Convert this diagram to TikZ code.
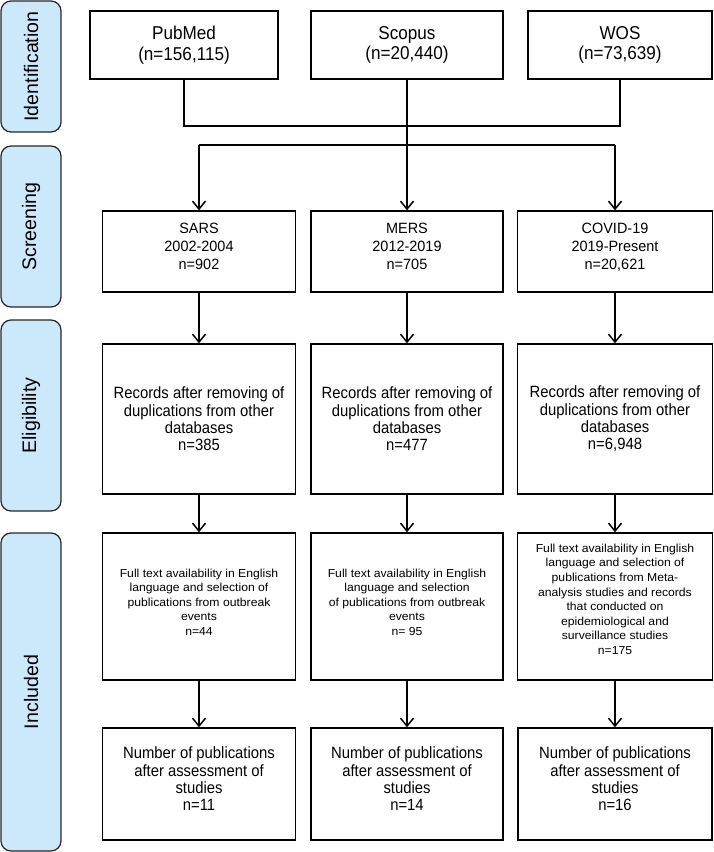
\documentclass[tikz,border=0pt]{standalone}
\usepackage{fontspec}
\setmainfont{Liberation Sans}
\newfontfamily\topfont[FakeStretch=0.92]{Liberation Sans}
\newfontfamily\scrfont[FakeStretch=0.97]{Liberation Sans}
\newfontfamily\narrowfont[FakeStretch=0.91]{Liberation Sans}
\newfontfamily\incfont[FakeStretch=1.05]{Liberation Sans}
\newcommand\lowerby[1]{\rule[-#1]{0pt}{#1}}
\usetikzlibrary{arrows.meta}
\definecolor{stagefill}{HTML}{CCE8FB}
\begin{document}
\begin{tikzpicture}[x=1pt,y=-1pt,
  box/.style={draw=black, line width=1.4pt, fill=white, inner sep=0pt, align=center},
  stagebox/.style={draw=black!85, line width=1.2pt, fill=stagefill, rounded corners=10pt,
    rotate=90, inner sep=0pt, minimum height=60pt, font=\fontsize{19.6}{22}\selectfont},
  conn/.style={line width=1.5pt},
  arr/.style={line width=1.5pt, -{Straight Barb[length=8pt,width=13pt]}},
  ftop/.style={font=\topfont\fontsize{18.6}{20.7}\selectfont},
  fscr/.style={font=\scrfont\fontsize{14.9}{17.8}\selectfont},
  felig/.style={font=\narrowfont\fontsize{16.3}{17.3}\selectfont},
  finc/.style={font=\incfont\fontsize{11.6}{14.6}\selectfont},
  fnum/.style={font=\narrowfont\fontsize{16.3}{17.2}\selectfont}]
\useasboundingbox (0,0) rectangle (714,852);

% stage labels
\node[stagebox, minimum width=131pt] (st1) at (31,66.5) {Identification};
\node[stagebox, minimum width=161pt] (st2) at (31,226.5) {Screening};
\node[stagebox, minimum width=191pt] (st3) at (31,415.5) {Eligibility};
\node[stagebox, minimum width=318pt] (st4) at (31,692) {Included};

% databases
\node[box, ftop, minimum width=188pt, minimum height=68pt] (pub) at (184,45) {PubMed\\(n=156,115)};
\node[box, ftop, minimum width=192pt, minimum height=68pt] (sco) at (407,45) {Scopus\\(n=20,440)};
\node[box, ftop, minimum width=184pt, minimum height=68pt] (wos) at (620,45) {WOS\\(n=73,639)};

% screening
\node[box, fscr, minimum width=193pt, minimum height=81pt] (sars) at (199,251.5) {SARS\\2002-2004\\n=902\lowerby{10.6pt}};
\node[box, fscr, minimum width=192pt, minimum height=81pt] (mers) at (407,251.5) {MERS\\2012-2019\\n=705\lowerby{10.6pt}};
\node[box, fscr, minimum width=195pt, minimum height=81pt] (covid) at (615,251.5) {COVID-19\\2019-Present\\n=20,621\lowerby{10.6pt}};

% eligibility
\node[box, felig, minimum width=193pt, minimum height=150pt] (e1) at (199,419) {Records after removing of\\duplications from other\\databases\\n=385};
\node[box, felig, minimum width=192pt, minimum height=150pt] (e2) at (407,419) {Records after removing of\\duplications from other\\databases\\n=477};
\node[box, felig, minimum width=195pt, minimum height=150pt] (e3) at (615,419) {Records after removing of\\duplications from other\\databases\\n=6,948};

% included (full text)
\node[box, finc, minimum width=193pt, minimum height=147pt] (f1) at (199,606.5) {Full text availability in English\\language and selection of\\publications from outbreak\\events\\n=44\lowerby{9pt}};
\node[box, finc, minimum width=192pt, minimum height=147pt] (f2) at (407,606.5) {Full text availability in English\\language and selection\\of publications from outbreak\\events\\n= 95\lowerby{9pt}};
\node[box, finc, minimum width=195pt, minimum height=147pt] (f3) at (615,606.5) {Full text availability in English\\language and selection of\\publications from Meta-\\analysis studies and records\\that conducted on\\epidemiological and\\surveillance studies\\n=175\lowerby{14.6pt}};

% included (final)
\node[box, fnum, minimum width=193pt, minimum height=112pt] (n1) at (199,784) {Number of publications\\after assessment of\\studies\\n=11\lowerby{10.6pt}};
\node[box, fnum, minimum width=192pt, minimum height=112pt] (n2) at (407,784) {Number of publications\\after assessment of\\studies\\n=14\lowerby{10.6pt}};
\node[box, fnum, minimum width=194pt, minimum height=112pt] (n3) at (615,784) {Number of publications\\after assessment of\\studies\\n=16\lowerby{10.6pt}};

% connectors
\coordinate (m1) at (184,126);
\coordinate (m2) at (620,126);
\coordinate (j1) at (199,145);
\coordinate (j2) at (615,145);
\draw[conn] (pub.south) -- (m1) -- (m2) -- (wos.south);
\draw[conn] (j1) -- (j2);
\draw[arr] (sco.south) -- (mers.north);
\draw[arr] (j1) -- (sars.north);
\draw[arr] (j2) -- (covid.north);
\draw[arr] (sars) -- (e1);
\draw[arr] (mers) -- (e2);
\draw[arr] (covid) -- (e3);
\draw[arr] (e1) -- (f1);
\draw[arr] (e2) -- (f2);
\draw[arr] (e3) -- (f3);
\draw[arr] (f1) -- (n1);
\draw[arr] (f2) -- (n2);
\draw[arr] (f3) -- (n3);
\end{tikzpicture}
\end{document}
